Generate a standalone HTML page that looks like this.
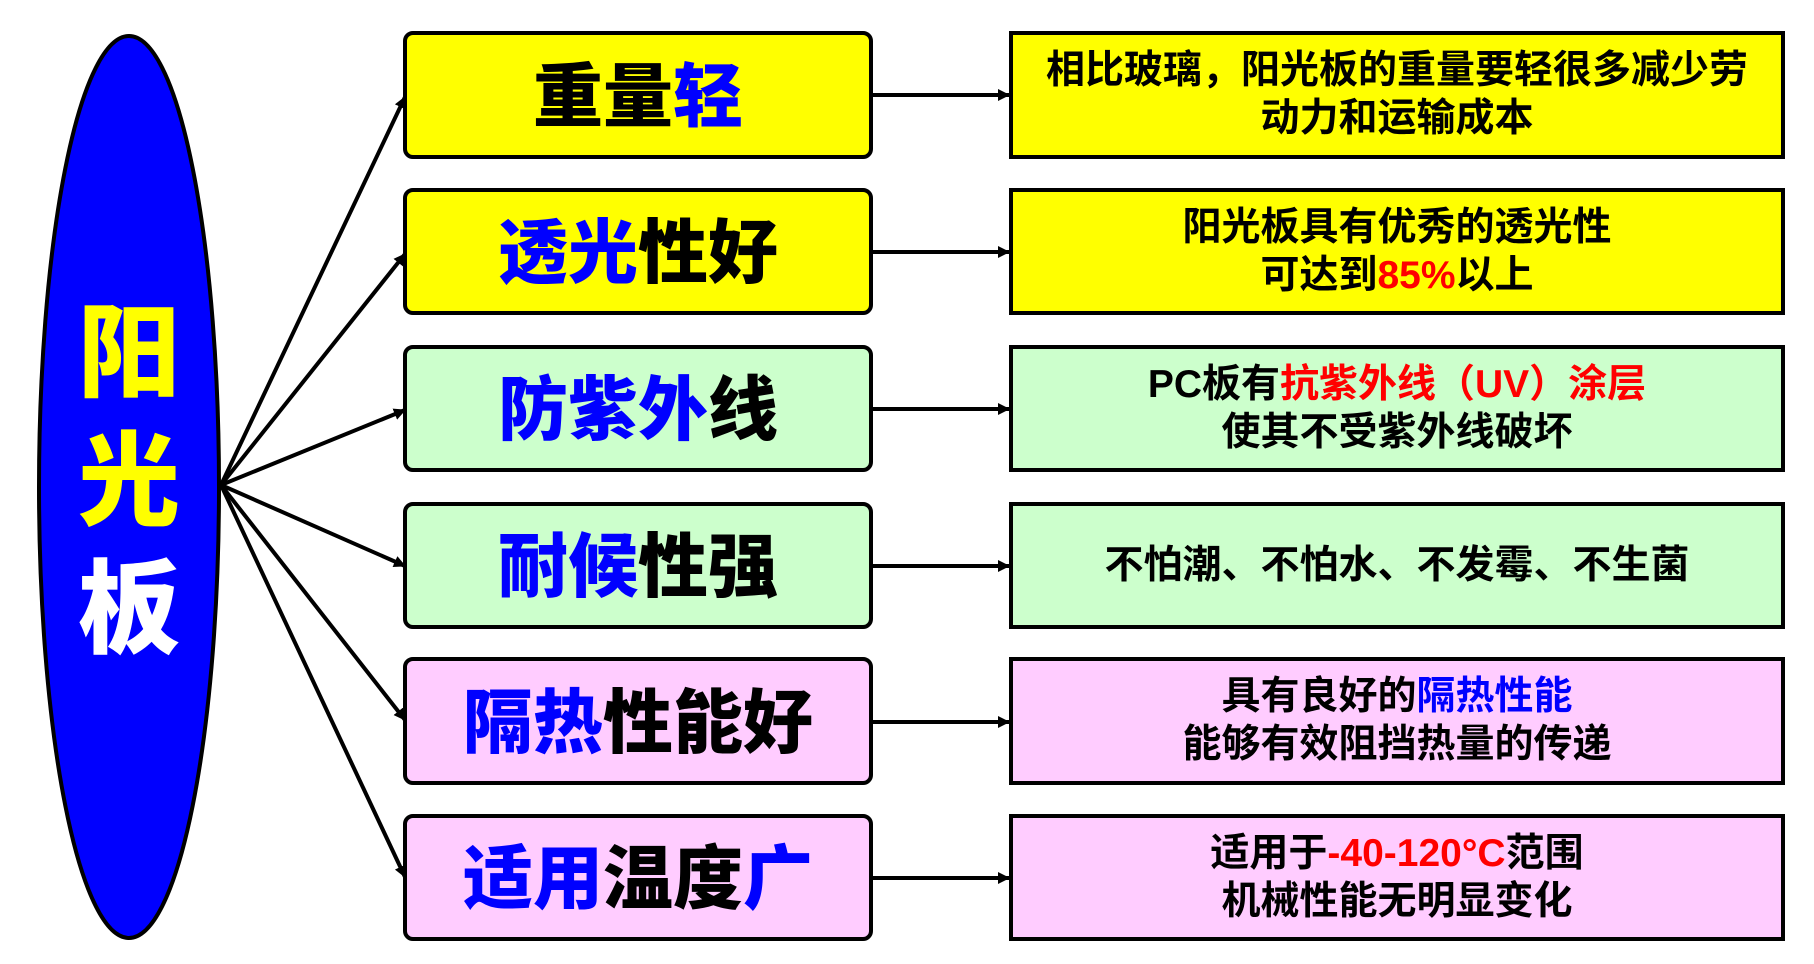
<!DOCTYPE html>
<html><head><meta charset="utf-8"><style>
body{margin:0;width:1814px;height:964px;background:#fff;position:relative;overflow:hidden;font-family:"Liberation Sans","Noto Sans CJK SC",sans-serif;font-weight:bold}
.l{position:absolute;left:403px;width:470px;border:4px solid #000;border-radius:10px;display:flex;align-items:center;justify-content:center;font-size:70px;font-weight:900;color:#000;box-sizing:border-box;padding-bottom:8px}
.r{position:absolute;left:1009px;width:776px;border:4px solid #000;display:flex;align-items:center;justify-content:center;text-align:center;font-size:39px;line-height:48px;color:#000;box-sizing:border-box}
.y{background:#ffff00}.g{background:#ccffcc}.p{background:#ffccff}
.b{color:#0000ff}.rd{color:#ff0000}
</style></head><body>
<svg width="1814" height="964" style="position:absolute;left:0;top:0">
<defs><marker id="a" markerWidth="12" markerHeight="12" refX="11" refY="6" orient="auto" markerUnits="userSpaceOnUse"><path d="M0,0 L12,6 L0,12 z" fill="#000"/></marker></defs>
<ellipse cx="129" cy="487" rx="90" ry="451" fill="#0000ff" stroke="#000" stroke-width="4"/>
<g stroke="#000" stroke-width="4" marker-end="url(#a)">
<line x1="221" y1="485" x2="405" y2="97"/>
<line x1="221" y1="485" x2="405" y2="254"/>
<line x1="221" y1="485" x2="405" y2="410"/>
<line x1="221" y1="485" x2="405" y2="566"/>
<line x1="221" y1="485" x2="405" y2="720"/>
<line x1="221" y1="485" x2="405" y2="877"/>
<line x1="873" y1="95" x2="1009" y2="95"/>
<line x1="873" y1="252" x2="1009" y2="252"/>
<line x1="873" y1="409" x2="1009" y2="409"/>
<line x1="873" y1="566" x2="1009" y2="566"/>
<line x1="873" y1="722" x2="1009" y2="722"/>
<line x1="873" y1="878" x2="1009" y2="878"/>
</g>
</svg>
<div style="position:absolute;left:39px;width:180px;top:290px;text-align:center;font-size:102px;line-height:128px;font-weight:900">
<div style="color:#ffff00">阳</div><div style="color:#ffff00">光</div><div style="color:#fff">板</div></div>

<div class="l y" style="top:31px;height:128px">重量<span class="b">轻</span></div>
<div class="l y" style="top:188px;height:127px"><span class="b">透光</span>性好</div>
<div class="l g" style="top:345px;height:127px"><span class="b">防紫外</span>线</div>
<div class="l g" style="top:502px;height:127px"><span class="b">耐候</span>性强</div>
<div class="l p" style="top:657px;height:128px"><span class="b">隔热</span>性能好</div>
<div class="l p" style="top:814px;height:127px"><span class="b">适用</span>温度<span class="b">广</span></div>

<div class="r y" style="top:31px;height:128px"><div>相比玻璃，阳光板的重量要轻很多减少劳<br>动力和运输成本</div></div>
<div class="r y" style="top:188px;height:127px"><div>阳光板具有优秀的透光性<br>可达到<span class="rd">85%</span>以上</div></div>
<div class="r g" style="top:345px;height:127px"><div>PC板有<span class="rd">抗紫外线（UV）涂层</span><br>使其不受紫外线破坏</div></div>
<div class="r g" style="top:502px;height:127px"><div>不怕潮、不怕水、不发霉、不生菌</div></div>
<div class="r p" style="top:657px;height:128px"><div>具有良好的<span class="b">隔热性能</span><br>能够有效阻挡热量的传递</div></div>
<div class="r p" style="top:814px;height:127px"><div>适用于<span class="rd">-40-120°C</span>范围<br>机械性能无明显变化</div></div>
</body></html>
